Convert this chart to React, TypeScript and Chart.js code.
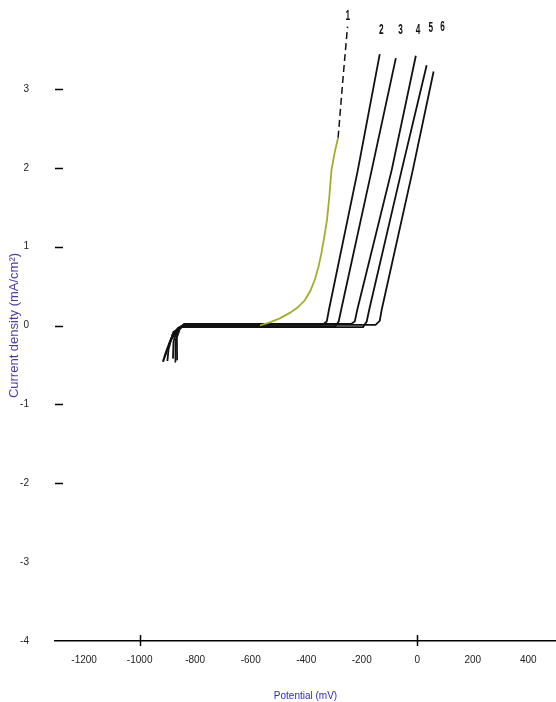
import React, { useEffect, useRef } from 'react';
import { Chart, registerables } from 'chart.js';
Chart.register(...registerables);

// ---- axis ticks ----
const xTicks = [-1200, -1000, -800, -600, -400, -200, 0, 200, 400];
const xTickLabels = ['-1200', '-1000', '-800', '-600', '-400', '-200', '0', '200', '400'];
const xMajorMarks = [-1000, 0];
const yTicks = [-4, -3, -2, -1, 0, 1, 2, 3];
const yTickLabels = ['-4', '-3', '-2', '-1', '0', '1', '2', '3'];
const yDashMarks = [-2, -1, 0, 1, 2, 3];

// ---- curve 1 (black start, yellow-green rise, dashed top) ----
const c1BlackX = [-916, -905, -890, -872, -852, -840, -700, -567];
const c1BlackY = [-0.46, -0.34, -0.2, -0.09, -0.02, 0, 0, 0];
const c1YellowX = [-567, -531, -495, -459, -430, -405, -385, -369, -356, -345, -335, -325, -317, -309, -297, -285];
const c1YellowY = [0, 0.04, 0.09, 0.16, 0.23, 0.32, 0.44, 0.58, 0.74, 0.92, 1.12, 1.34, 1.62, 1.97, 2.2, 2.38];
const c1DashX = [-285, -268, -251];
const c1DashY = [2.38, 3.11, 3.79];

// ---- curves 2..6 ----
const c2X = [-900, -896, -882, -862, -840, -600, -340, -326, -318, -214, -135];
const c2Y = [-0.45, -0.3, -0.12, -0.03, 0.012, 0.012, 0.012, 0.05, 0.2, 1.97, 3.44];
const c3X = [-870, -871, -862, -845, -600, -296, -283, -274, -164, -77];
const c3Y = [-0.46, -0.2, -0.06, -0.012, -0.012, -0.012, 0.05, 0.2, 1.97, 3.39];
const c4X = [-865, -866, -855, -840, -600, -238, -225, -216, -92, -5];
const c4Y = [-0.44, -0.15, -0.04, 0.02, 0.02, 0.02, 0.05, 0.2, 1.97, 3.42];
const c5X = [-910, -895, -878, -848, -600, -195, -182, -173, -56, 34];
const c5Y = [-0.4, -0.25, -0.08, -0.02, -0.02, -0.02, 0.05, 0.2, 1.97, 3.3];
const c6X = [-880, -878, -865, -842, -600, -150, -135, -128, -16, 59];
const c6Y = [-0.42, -0.2, -0.05, 0.008, 0.008, 0.008, 0.06, 0.2, 1.97, 3.22];

// ---- curve number labels ----
const curveLabels = ['1', '2', '3', '4', '5', '6'];
const curveLabelX = [-250, -129, -60, 3, 49, 91];
const curveLabelY = [3.93, 3.75, 3.75, 3.75, 3.77, 3.79];

const pts = (xs: number[], ys: number[]) => xs.map((x, i) => ({ x, y: ys[i] }));

const lineDs = (xs: number[], ys: number[], color: string, width: number, dash: number[] = []) => ({
  data: pts(xs, ys),
  borderColor: color,
  backgroundColor: color,
  borderWidth: width,
  borderDash: dash,
  pointRadius: 0,
  showLine: true,
  fill: false,
  tension: 0,
  clip: false,
});

const decorPlugin = {
  id: 'decor',
  afterDraw(chart: any) {
    const { ctx, chartArea, scales } = chart;
    const x = scales.x;
    const y = scales.y;
    ctx.save();
    ctx.strokeStyle = '#000';
    ctx.lineWidth = 1.5;
    xMajorMarks.forEach((v) => {
      const px = Math.round(x.getPixelForValue(v)) + 0.5;
      ctx.beginPath();
      ctx.moveTo(px, chartArea.bottom - 6);
      ctx.lineTo(px, chartArea.bottom + 5);
      ctx.stroke();
    });
    yDashMarks.forEach((v) => {
      const py = Math.round(y.getPixelForValue(v)) + 0.5;
      ctx.beginPath();
      ctx.moveTo(chartArea.left, py);
      ctx.lineTo(chartArea.left + 8, py);
      ctx.stroke();
    });
    ctx.fillStyle = '#111';
    ctx.font = 'bold 15px "Liberation Sans", sans-serif';
    ctx.textAlign = 'center';
    ctx.textBaseline = 'middle';
    curveLabels.forEach((t, i) => {
      const px = x.getPixelForValue(curveLabelX[i]);
      const py = y.getPixelForValue(curveLabelY[i]);
      ctx.save();
      ctx.translate(px, py);
      ctx.scale(0.55, 1);
      ctx.fillText(t, 0, 0);
      ctx.restore();
    });
    ctx.restore();
  },
};

export default function App() {
  const ref = useRef<HTMLCanvasElement | null>(null);
  useEffect(() => {
    if (!ref.current) return;
    const chart = new Chart(ref.current, {
      type: 'scatter',
      data: {
        datasets: [
          lineDs(c1BlackX, c1BlackY, '#111', 2.2),
          lineDs(c1YellowX, c1YellowY, '#a3ad2c', 1.8),
          lineDs(c1DashX, c1DashY, '#111', 1.5, [7, 4]),
          lineDs(c2X, c2Y, '#111', 1.8),
          lineDs(c3X, c3Y, '#111', 1.8),
          lineDs(c4X, c4Y, '#111', 1.8),
          lineDs(c5X, c5Y, '#111', 1.8),
          lineDs(c6X, c6Y, '#111', 1.8),
        ] as any,
      },
      options: {
        animation: false,
        responsive: true,
        maintainAspectRatio: false,
        layout: { autoPadding: false, padding: { top: 10, right: 0, left: 0, bottom: 0 } },
        plugins: { legend: { display: false }, tooltip: { enabled: false } },
        scales: {
          x: {
            type: 'linear',
            min: -1305,
            max: 500,
            afterBuildTicks: (s: any) => {
              s.ticks = xTicks.map((v) => ({ value: v }));
            },
            afterFit: (s: any) => {
              s.height = 61;
              s.paddingLeft = 0;
              s.paddingRight = 0;
            },
            grid: { display: false, drawTicks: false },
            border: { display: true, color: '#000', width: 1.5 },
            ticks: {
              padding: 13,
              color: '#222',
              font: { family: '"Liberation Sans", sans-serif', size: 10 },
              callback: (v: any) => {
                const i = xTicks.indexOf(Number(v));
                return i >= 0 ? xTickLabels[i] : '';
              },
              maxRotation: 0,
              autoSkip: false,
            },
            title: {
              display: true,
              text: 'Potential (mV)',
              color: '#2a2ad2',
              font: { family: '"Liberation Sans", sans-serif', size: 10 },
              padding: { top: 0, bottom: 0 },
            },
          },
          y: {
            type: 'linear',
            min: -4,
            max: 4,
            afterBuildTicks: (s: any) => {
              s.ticks = yTicks.map((v) => ({ value: v }));
            },
            afterFit: (s: any) => {
              s.width = 55;
              s.paddingTop = 0;
              s.paddingBottom = 0;
            },
            grid: { display: false, drawTicks: false },
            border: { display: false },
            ticks: {
              padding: 26,
              color: '#222',
              font: { family: '"Liberation Sans", sans-serif', size: 10 },
              callback: (v: any) => {
                const i = yTicks.indexOf(Number(v));
                return i >= 0 ? yTickLabels[i] : '';
              },
              autoSkip: false,
            },
            title: {
              display: true,
              text: 'Current density (mA/cm²)',
              color: '#4a3ca8',
              font: { family: '"Liberation Sans", sans-serif', size: 13 },
              padding: { top: 7, bottom: 0 },
            },
          },
        },
      },
      plugins: [decorPlugin],
    });
    return () => chart.destroy();
  }, []);
  return (
    <div style={{ position: 'fixed', left: 0, top: 0, width: 556, height: 702, background: '#fff' }}>
      <canvas ref={ref} />
    </div>
  );
}
